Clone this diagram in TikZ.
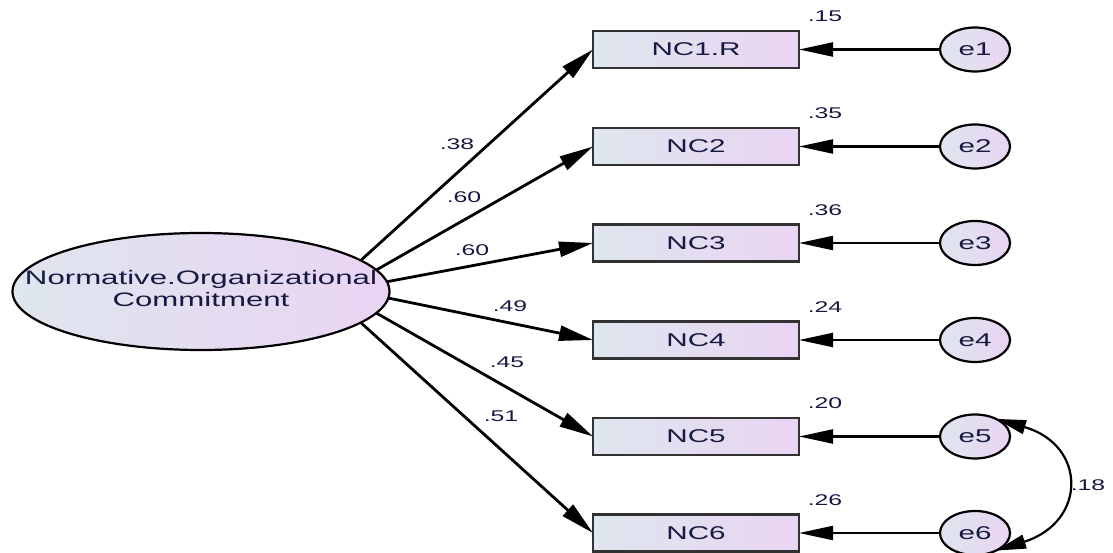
\documentclass[tikz,border=0pt]{standalone}
\usepackage{fontspec}
\setmainfont{Liberation Sans}
\newfontfamily\widefont[FakeStretch=1.6]{Liberation Sans}
\usetikzlibrary{arrows.meta,shapes.geometric}
\definecolor{txt}{RGB}{22,25,65}
\definecolor{lb}{RGB}{222,230,238}
\definecolor{lv}{RGB}{234,212,243}
\definecolor{bord}{RGB}{50,50,50}
\begin{document}
\begin{tikzpicture}[x=1pt,y=-1pt,
  latent/.style={ellipse,draw=black,line width=2.2pt,left color=lb,right color=lv,
    minimum width=377pt,minimum height=117pt,inner sep=0pt,outer sep=0pt,
    font=\widefont\fontsize{19.5}{22}\selectfont,text=txt},
  obs/.style={rectangle,draw=bord,line width=2.8pt,left color=lb,right color=lv,
    minimum width=206pt,minimum height=37pt,inner sep=0pt,outer sep=0pt,
    font=\widefont\fontsize{18.5}{20}\selectfont,text=txt},
  err/.style={ellipse,draw=black,line width=2.2pt,left color=lb,right color=lv,
    minimum width=70pt,minimum height=44pt,inner sep=0pt,outer sep=0pt,
    font=\widefont\fontsize{18.5}{20}\selectfont,text=txt},
  lbl/.style={font=\widefont\fontsize{15.5}{17}\selectfont,text=txt,inner sep=0pt},
  pathar/.style={line width=2.8pt,-{Triangle[length=34pt,width=15pt]}},
  errar/.style={line width=2.2pt,-{Triangle[length=34pt,width=14pt]}},
  covar/.style={line width=2.2pt,{Triangle[length=30pt,width=14pt]}-{Triangle[length=30pt,width=14pt]}}
]
\useasboundingbox (0,0) rectangle (1113,553);
\node[latent] (f) at (201,291.5) {\raisebox{-3pt}{\makebox[0pt][c]{\begin{tabular}{@{}c@{}}Normative.Organizational\\Commitment\end{tabular}}}};
\foreach \i/\y/\t in {1/49.5/NC1.R,2/146.5/NC2,3/243/NC3,4/340/NC4,5/436.5/NC5,6/533/NC6}{
  \node[obs] (nc\i) at (696,\y) {\t};
  \node[err] (e\i) at (975,\y) {e\i};
}
\foreach \i in {1,...,6}{
  \draw[errar] (e\i.west) -- (nc\i.east);
}
\draw[pathar] (f.11) -- (nc1.west);
\draw[pathar] (f.7) -- (nc2.west);
\draw[pathar] (f.3) -- (nc3.west);
\draw[pathar] (f.-2) -- (nc4.west);
\draw[pathar] (f.-7) -- (nc5.west);
\draw[pathar] (f.-11) -- (nc6.west);
\draw[covar] (e5.40) .. controls (1087,445) and (1087,522) .. (e6.-40);
\node[lbl] (p1) at (457,144) {.38};
\node[lbl] (p2) at (464,197) {.60};
\node[lbl] (p3) at (472,250) {.60};
\node[lbl] (p4) at (510,306) {.49};
\node[lbl] (p5) at (507,362) {.45};
\node[lbl] (p6) at (501,416) {.51};
\node[lbl] (r1) at (825,16) {.15};
\node[lbl] (r2) at (825,113) {.35};
\node[lbl] (r3) at (825,210) {.36};
\node[lbl] (r4) at (825,307) {.24};
\node[lbl] (r5) at (825,403.5) {.20};
\node[lbl] (r6) at (825,500) {.26};
\node[lbl] (c56) at (1088,485) {.18};
\end{tikzpicture}
\end{document}
